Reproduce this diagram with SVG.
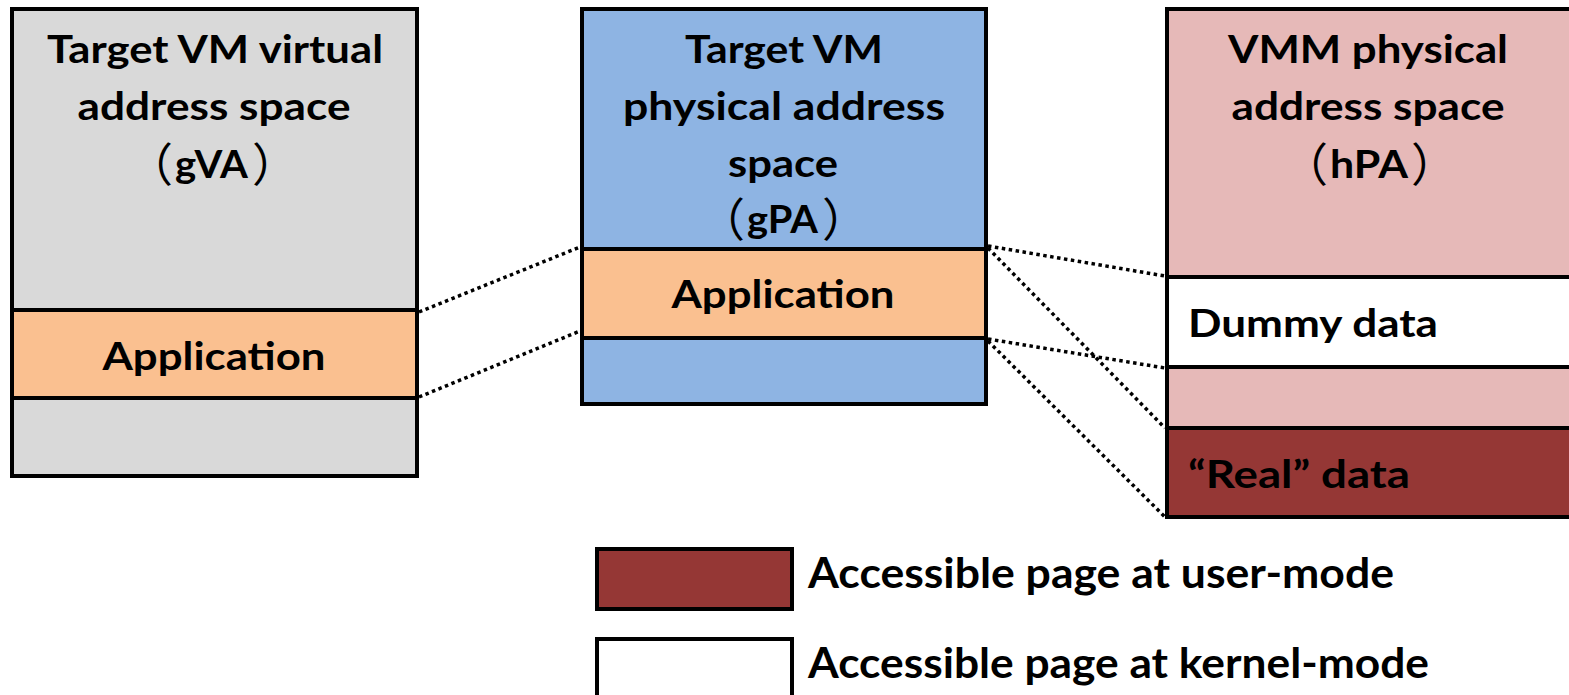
<svg xmlns="http://www.w3.org/2000/svg" width="1569" height="695" viewBox="0 0 1569 695">
  <style>
    .box { stroke: #000; stroke-width: 4; }
    .t { font-family: Lato, "Liberation Sans", "Noto Sans CJK JP", sans-serif; font-weight: bold; font-size: 39px; fill: #000; }
    .tc { text-anchor: middle; }
    .lg { font-size: 42px; }
    .par { font-family: "Noto Sans CJK JP", "Noto Sans CJK SC", sans-serif; font-weight: normal; font-size: 46px; fill: #000; }
    .dot { stroke: #000; stroke-width: 3.5; stroke-dasharray: 3.5 3.5; fill: none; }
    .gray { fill: #d9d9d9; }
    .blue { fill: #8eb4e3; }
    .orange { fill: #fac090; }
    .pink { fill: #e6b9b8; }
    .red { fill: #953735; }
    .white { fill: #ffffff; }
  </style>

  <!-- guest virtual address space -->
  <g id="gva">
    <rect class="box gray" x="12" y="9" width="405" height="467"/>
    <rect class="box orange" x="12" y="310" width="405" height="88"/>
    <text class="t tc" x="215" y="63" textLength="336" lengthAdjust="spacingAndGlyphs">Target VM virtual</text>
    <text class="t tc" x="214" y="120" textLength="273" lengthAdjust="spacingAndGlyphs">address space</text>
    <text class="par" x="173" y="181" text-anchor="end">（</text>
    <text class="t" x="175" y="178" textLength="73" lengthAdjust="spacingAndGlyphs">gVA</text>
    <text class="par" x="252" y="181">）</text>
    <text class="t tc" x="214" y="370" textLength="223" lengthAdjust="spacingAndGlyphs">Application</text>
  </g>

  <!-- guest physical address space -->
  <g id="gpa">
    <rect class="box blue" x="582" y="9" width="404" height="395"/>
    <rect class="box orange" x="582" y="249" width="404" height="89"/>
    <text class="t tc" x="784" y="63" textLength="198" lengthAdjust="spacingAndGlyphs">Target VM</text>
    <text class="t tc" x="784" y="120" textLength="322" lengthAdjust="spacingAndGlyphs">physical address</text>
    <text class="t tc" x="783" y="177" textLength="110" lengthAdjust="spacingAndGlyphs">space</text>
    <text class="par" x="745" y="236" text-anchor="end">（</text>
    <text class="t" x="747" y="233" textLength="71" lengthAdjust="spacingAndGlyphs">gPA</text>
    <text class="par" x="822" y="236">）</text>
    <text class="t tc" x="783" y="308" textLength="223" lengthAdjust="spacingAndGlyphs">Application</text>
  </g>

  <!-- host physical address space -->
  <g id="hpa">
    <rect class="box pink" x="1167" y="9" width="410" height="508"/>
    <rect class="box white" x="1167" y="277" width="410" height="90"/>
    <rect class="box red" x="1167" y="428" width="410" height="89"/>
    <text class="t tc" x="1368" y="63" textLength="280" lengthAdjust="spacingAndGlyphs">VMM physical</text>
    <text class="t tc" x="1368" y="120" textLength="273" lengthAdjust="spacingAndGlyphs">address space</text>
    <text class="par" x="1328" y="181" text-anchor="end">（</text>
    <text class="t" x="1330" y="178" textLength="78" lengthAdjust="spacingAndGlyphs">hPA</text>
    <text class="par" x="1411" y="181">）</text>
    <text class="t" x="1188" y="337" textLength="250" lengthAdjust="spacingAndGlyphs">Dummy data</text>
    <text class="t" x="1188" y="488" textLength="222" lengthAdjust="spacingAndGlyphs">“Real” data</text>
  </g>

  <!-- page mappings -->
  <g id="connectors">
    <line class="dot" x1="419" y1="312" x2="580" y2="247"/>
    <line class="dot" x1="419" y1="397" x2="580" y2="331"/>
    <line class="dot" x1="988" y1="246" x2="1165" y2="276"/>
    <line class="dot" x1="988" y1="248" x2="1165" y2="428"/>
    <line class="dot" x1="988" y1="339" x2="1165" y2="368"/>
    <line class="dot" x1="988" y1="341" x2="1165" y2="517"/>
  </g>

  <!-- legend -->
  <g id="legend-user">
    <rect class="box red" x="597" y="549" width="195" height="60"/>
    <text class="t lg" x="808" y="588" textLength="586" lengthAdjust="spacingAndGlyphs">Accessible page at user-mode</text>
  </g>
  <g id="legend-kernel">
    <rect class="box white" x="597" y="639" width="195" height="70"/>
    <text class="t lg" x="808" y="678" textLength="621" lengthAdjust="spacingAndGlyphs">Accessible page at kernel-mode</text>
  </g>
</svg>
